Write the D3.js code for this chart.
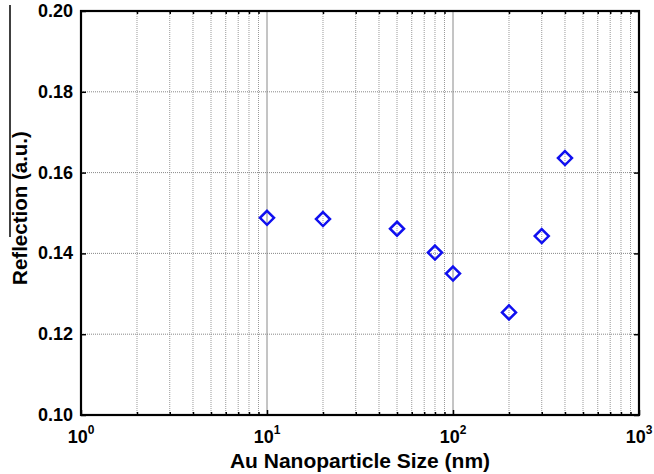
<!DOCTYPE html>
<html>
<head>
<meta charset="utf-8">
<script src="https://cdn.jsdelivr.net/npm/d3@7"></script>
<style>
  body { margin: 0; background: #fff; }
  text { font-family: "Liberation Sans", Arial, sans-serif; font-weight: bold; }
</style>
</head>
<body>
<script>
const WIDTH = 654;
const HEIGHT = 474;
const MARGIN = {left: 81, right: 15, top: 11, bottom: 59};

// data
const sizes = [10, 20, 50, 80, 100, 200, 300, 400];
const reflection = [0.1488, 0.1485, 0.1461, 0.1402, 0.1350, 0.1254, 0.1443, 0.1636];
const yTicks = [0.10, 0.12, 0.14, 0.16, 0.18, 0.20];
const xDecades = [1, 10, 100, 1000];
const xExponents = ["0", "1", "2", "3"];

const svg = d3.select("body")
              .append("svg")
              .attr("width", WIDTH)
              .attr("height", HEIGHT);

const xScale = d3.scaleLog()
                 .domain([1, 1000])
                 .range([MARGIN.left, WIDTH - MARGIN.right]);

const yScale = d3.scaleLinear()
                 .domain([0.10, 0.20])
                 .range([HEIGHT - MARGIN.bottom, MARGIN.top]);

const [x0, x1] = xScale.range();
const [y0, y1] = yScale.range();

// minor positions 2..9 of each decade
const minorTicks = [];
xDecades.slice(0, -1).forEach(d => {
  for (let k = 2; k <= 9; k++) minorTicks.push(d * k);
});

//grid
const grid = svg.append("g");
grid.selectAll(".vminor")
    .data(minorTicks)
    .enter()
    .append("line")
    .attr("x1", d => xScale(d))
    .attr("x2", d => xScale(d))
    .attr("y1", y0)
    .attr("y2", y1)
    .attr("stroke", "#999")
    .attr("stroke-width", 1)
    .attr("stroke-dasharray", "1,1");

grid.selectAll(".vmajor")
    .data(xDecades.slice(1, -1))
    .enter()
    .append("line")
    .attr("x1", d => xScale(d))
    .attr("x2", d => xScale(d))
    .attr("y1", y0)
    .attr("y2", y1)
    .attr("stroke", "#8a8a8a")
    .attr("stroke-width", 1);

grid.selectAll(".hgrid")
    .data(yTicks.slice(1, -1))
    .enter()
    .append("line")
    .attr("x1", x0)
    .attr("x2", x1)
    .attr("y1", d => yScale(d))
    .attr("y2", d => yScale(d))
    .attr("stroke", "#888")
    .attr("stroke-width", 1)
    .attr("stroke-dasharray", "1,1");

//axes with inward ticks
const axisStyle = g => {
  g.select(".domain").remove();
  g.selectAll("line").attr("stroke", "#000").attr("stroke-width", 1.5);
  g.selectAll("text").remove();
};

const minorLen = 3, majorLen = 5;
svg.append("g")
   .attr("transform", "translate(0," + y0 + ")")
   .call(d3.axisTop(xScale).tickValues(minorTicks).tickSize(minorLen))
   .call(axisStyle);
svg.append("g")
   .attr("transform", "translate(0," + y1 + ")")
   .call(d3.axisBottom(xScale).tickValues(minorTicks).tickSize(minorLen))
   .call(axisStyle);
svg.append("g")
   .attr("transform", "translate(0," + y0 + ")")
   .call(d3.axisTop(xScale).tickValues(xDecades).tickSize(majorLen))
   .call(axisStyle);
svg.append("g")
   .attr("transform", "translate(" + x0 + ",0)")
   .call(d3.axisRight(yScale).tickValues(yTicks).tickSize(majorLen))
   .call(axisStyle);
svg.append("g")
   .attr("transform", "translate(" + x1 + ",0)")
   .call(d3.axisLeft(yScale).tickValues(yTicks).tickSize(majorLen))
   .call(axisStyle);

//frame
svg.append("rect")
   .attr("x", x0)
   .attr("y", y1)
   .attr("width", x1 - x0)
   .attr("height", y0 - y1)
   .attr("fill", "none")
   .attr("stroke", "#000")
   .attr("stroke-width", 2.2);

//tick labels
svg.selectAll(".ylab")
   .data(yTicks)
   .enter()
   .append("text")
   .attr("x", x0 - 8)
   .attr("y", d => yScale(d) + 6)
   .attr("text-anchor", "end")
   .attr("font-size", 18)
   .text(d => d.toFixed(2));

const xl = svg.selectAll(".xlab")
   .data(xDecades)
   .enter()
   .append("text")
   .attr("x", d => xScale(d))
   .attr("y", y0 + 28)
   .attr("text-anchor", "middle")
   .attr("font-size", 18);
xl.append("tspan").text("10");
xl.append("tspan")
  .attr("font-size", 12)
  .attr("dy", -9)
  .text((d, i) => xExponents[i]);

//axis titles
svg.append("text")
   .attr("x", (x0 + x1) / 2)
   .attr("y", 468)
   .attr("text-anchor", "middle")
   .attr("font-size", 21)
   .text("Au Nanoparticle Size (nm)");

svg.append("text")
   .attr("transform", "translate(27,208) rotate(-90)")
   .attr("text-anchor", "middle")
   .attr("font-size", 20.5)
   .text("Reflection (a.u.)");

//stray line on the left edge
svg.append("line")
   .attr("x1", 10).attr("x2", 10)
   .attr("y1", 5).attr("y2", 237)
   .attr("stroke", "#000")
   .attr("stroke-width", 1.5);

//markers
const r = 7;
svg.selectAll(".pt")
   .data(sizes)
   .enter()
   .append("path")
   .attr("d", (d, i) => {
     const cx = xScale(d), cy = yScale(reflection[i]);
     return "M" + cx + "," + (cy - r) + "L" + (cx + r) + "," + cy +
            "L" + cx + "," + (cy + r) + "L" + (cx - r) + "," + cy + "Z";
   })
   .attr("fill", "none")
   .attr("stroke", "#1010f0")
   .attr("stroke-width", 2.5);
</script>
</body>
</html>
